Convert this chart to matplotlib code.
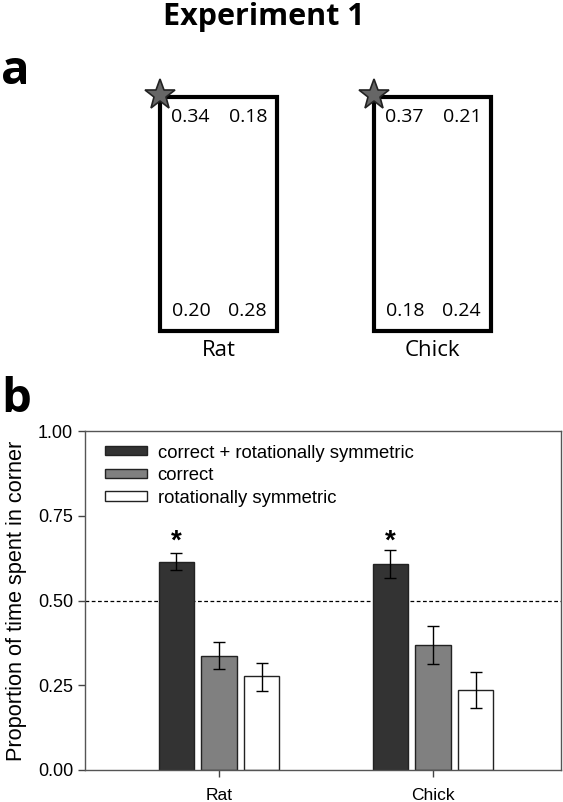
import matplotlib

matplotlib.use("Agg")
import matplotlib.pyplot as plt
from matplotlib.patches import Rectangle
import numpy as np

plt.rcParams["font.family"] = ["Liberation Sans", "DejaVu Sans"]

# panel a: proportion of time in each corner (top-left, top-right, bottom-left, bottom-right)
species = ["Rat", "Chick"]
corner_values = [
    [0.34, 0.18, 0.20, 0.28],
    [0.37, 0.21, 0.18, 0.24],
]

# panel b
series = ["correct + rotationally symmetric", "correct", "rotationally symmetric"]
means = [
    [0.615, 0.608],
    [0.337, 0.368],
    [0.277, 0.237],
]
err_hi = [
    [0.640, 0.648],
    [0.378, 0.424],
    [0.317, 0.289],
]
err_lo = [
    [0.589, 0.567],
    [0.297, 0.313],
    [0.234, 0.184],
]
significant = [True, True]
chance = 0.5

colors = ["#333333", "#808080", "#ffffff"]

fig = plt.figure(figsize=(5.63, 8.02), dpi=100)

# ---- panel a: arena diagrams, drawn in pixel coordinates ----
axa = fig.add_axes([0, 0, 1, 1])
axa.set_xlim(0, 563)
axa.set_ylim(802, 0)
axa.axis("off")

fig.text(264 / 563, 1 - 17 / 802, "Experiment 1", ha="center", va="center",
         fontsize=22, fontweight="bold", family=["Open Sans", "DejaVu Sans"])
fig.text(1 / 563, 1 - 72 / 802, "a", ha="left", va="center", fontsize=34,
         fontweight="bold", family=["Open Sans", "DejaVu Sans"])
fig.text(1 / 563, 1 - 400 / 802, "b", ha="left", va="center", fontsize=34,
         fontweight="bold", family=["Open Sans", "DejaVu Sans"])

rect_left = [160, 374]
rect_w, rect_top, rect_h = 117, 97, 234
for name, vals, x0 in zip(species, corner_values, rect_left):
    axa.add_patch(Rectangle((x0, rect_top), rect_w, rect_h, fill=False,
                            edgecolor="black", linewidth=3, zorder=2))
    axa.plot(x0, rect_top - 2, marker="*", markersize=23, color="#666666",
             markeredgecolor="#222222", markeredgewidth=1.2, zorder=3)
    xs = [x0 + 30, x0 + 88, x0 + 31, x0 + 87]
    ys = [rect_top + 20, rect_top + 20, rect_top + rect_h - 20, rect_top + rect_h - 20]
    for v, x, y in zip(vals, xs, ys):
        axa.text(x, y, f"{v:.2f}", ha="center", va="center", fontsize=14,
                 family=["Open Sans", "DejaVu Sans"])
    axa.text(x0 + rect_w / 2, rect_top + rect_h + 20, name, ha="center",
             va="center", fontsize=16, family=["Open Sans", "DejaVu Sans"])

# ---- panel b: bar chart ----
ax = fig.add_axes([85 / 563, 1 - 770 / 802, 476 / 563, (770 - 431) / 802])
x = np.arange(1, len(species) + 1)
width = 0.164
offsets = [-0.2, 0.0, 0.2]
for i, name in enumerate(series):
    m = np.array(means[i])
    lo = m - np.array(err_lo[i])
    hi = np.array(err_hi[i]) - m
    ax.bar(x + offsets[i], m, width, color=colors[i], edgecolor="#222222",
           linewidth=1, label=name, zorder=2)
    ax.errorbar(x + offsets[i], m, yerr=[lo, hi], fmt="none", ecolor="black",
                elinewidth=1, capsize=4, capthick=1, zorder=3)

for xi, sig in zip(x, significant):
    if sig:
        ax.text(xi + offsets[0], 0.675, "*", ha="center", va="center",
                fontsize=20, fontweight="bold")

ax.axhline(chance, color="black", linestyle=(0, (3, 2)), linewidth=0.9, zorder=1)

ax.set_xlim(0.374, 2.598)
ax.set_ylim(0, 1.0)
ticks = [0, 0.25, 0.5, 0.75, 1.0]
ax.set_yticks(ticks)
ax.set_yticklabels([f"{t:.2f}" for t in ticks], fontsize=13)
ax.set_xticks(x)
ax.set_xticklabels(species, fontsize=12.5)
ax.tick_params(direction="out", length=5, width=1, color="#444444")
ax.tick_params(axis="x", pad=8)
for s in ax.spines.values():
    s.set_color("#555555")
    s.set_linewidth(1)
ax.set_ylabel("Proportion of time spent in corner", fontsize=15.7, labelpad=8)

ax.legend(loc="upper left", frameon=False, fontsize=13.3, handlelength=2.3,
          handleheight=0.38, handletextpad=0.55, labelspacing=0.3,
          borderaxespad=0.0, borderpad=0.0, bbox_to_anchor=(0.042, 0.96))

fig.savefig("out.png", dpi=100)
